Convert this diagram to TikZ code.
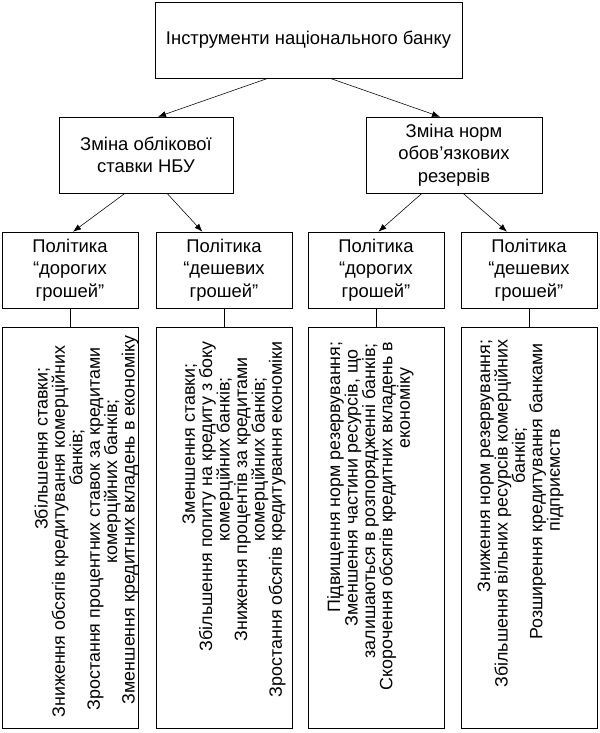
\documentclass[tikz,border=0pt]{standalone}
\usepackage{fontspec}
\setmainfont{Liberation Sans}
\usetikzlibrary{arrows.meta}

\newcommand{\lineoff}[1]{\makebox[#1cm]{}}

\begin{document}
\begin{tikzpicture}[every node/.style={font=\fontsize{13.1pt}{16pt}\selectfont}, >={Latex[length=2mm]},
	box/.style={draw, align=center, minimum height=1.9cm, inner sep=0pt},
	effbox/.style={draw, minimum width=3.4cm, minimum height=10.025cm, inner sep=0pt},
	efftext/.style={rotate=90, align=flush right, text width=10cm, inner sep=0pt,
		font={\fontsize{12.7pt}{12.4pt}\selectfont\lineskiplimit=-5pt}}]
	\useasboundingbox (0,0) rectangle (14.975,-18.325);
	\node[box, minimum width=7.675cm] (nbu) at (7.7125,-1.0) {Інструменти національного банку};
	\node[box, minimum width=4.35cm] (rate) at (3.65,-3.875) {Зміна облікової\\ставки НБУ};
	\node[box, minimum width=4.4cm] (res) at (11.35,-3.875) {Зміна норм\\обов’язкових\\резервів};
	\foreach \i/\x/\w in {1/1.75/дорогих, 2/5.6/дешевих, 3/9.4/дорогих, 4/13.225/дешевих} {
		\node[box, minimum width=3.4cm] (pol\i) at (\x,-6.75) {Політика\\“\w\\грошей”};
		\node[effbox] (eff\i) at (\x,-13.1875) {};
	}
	% effects, text turned to read upwards
	\node[efftext] (txt1) at ([xshift=0.41cm]eff1.center) {Збільшення ставки;\lineoff{1.0}\\
		Зниження обсягів кредитування комерційних\lineoff{0.45}\\
		банків;\lineoff{2.55}\\
		Зростання процентних ставок за кредитами\lineoff{0.5}\\
		комерційних банків;\lineoff{1.8}\\
		Зменшення кредитних вкладень в економіку\lineoff{0.2}};
	\node[efftext] (txt2) at ([xshift=0.25cm]eff2.center) {Зменшення ставки;\lineoff{0.9}\\
		Збільшення попиту на кредиту з боку\lineoff{0.35}\\
		комерційних банків;\lineoff{1.25}\\
		Зниження процентів за кредитами\lineoff{0.75}\\
		комерційних банків;\lineoff{1.25}\\
		Зростання обсягів кредитування економіки\lineoff{0.35}};
	\node[efftext] (txt3) at ([xshift=-0.14cm]eff3.center) {Підвищення норм резервування;\lineoff{0.35}\\
		Зменшення частини ресурсів, що\lineoff{0.55}\\
		залишаються в розпорядженні банків;\lineoff{0.4}\\
		Скорочення обсягів кредитних вкладень в\lineoff{0.35}\\
		економіку\lineoff{1.0}};
	\node[efftext] (txt4) at ([xshift=-0.21cm]eff4.center) {Зниження норм резервування;\lineoff{0.3}\\
		Збільшення вільних ресурсів комерційних\lineoff{0.3}\\
		банків;\lineoff{2.5}\\
		Розширення кредитування банками\lineoff{0.4}\\
		підприємств\lineoff{2.55}};
	\draw[->] ([xshift=-1.0125cm]nbu.south) -- ([xshift=0.3cm]rate.north);
	\draw[->] ([xshift=0.5375cm]nbu.south) -- ([xshift=-0.35cm]res.north);
	\draw[->] ([xshift=-0.525cm]rate.south) -- ([xshift=0.075cm]pol1.north);
	\draw[->] ([xshift=0.525cm]rate.south) -- ([xshift=-0.54cm]pol2.north);
	\draw[->] ([xshift=-0.8cm]res.south) -- ([xshift=0.06cm]pol3.north);
	\draw[->] ([xshift=0.225cm]res.south) -- ([xshift=-0.55cm]pol4.north);
	\foreach \i in {1,...,4}
		\draw (pol\i.south) -- (eff\i.north);
\end{tikzpicture}
\end{document}
